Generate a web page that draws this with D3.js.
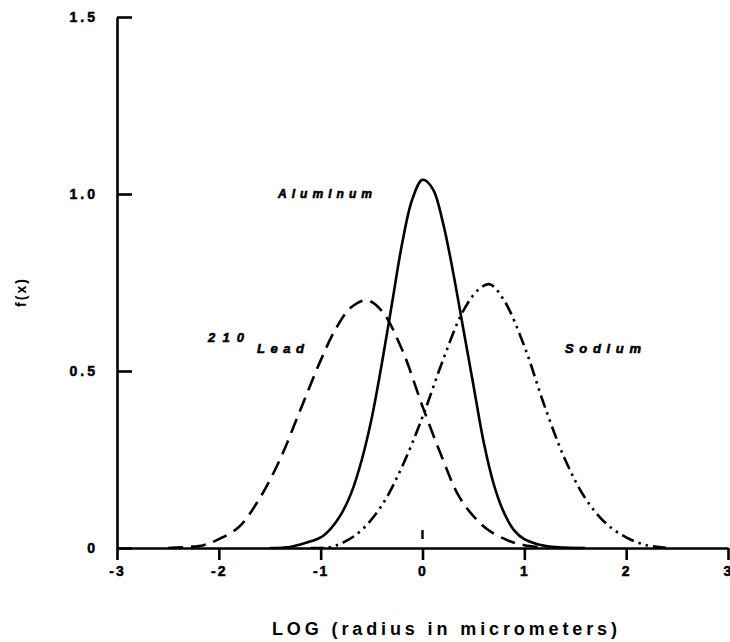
<!DOCTYPE html>
<html>
<head>
<meta charset="utf-8">
<script src="https://cdnjs.cloudflare.com/ajax/libs/d3/7.8.5/d3.min.js"></script>
<style>
  body { margin: 0; background: #fff; }
  svg { display: block; }
  .axis path, .axis line { stroke: #000; stroke-width: 2.6px; }
  .axis text { font-family: "Liberation Sans", Arial, sans-serif; font-weight: bold; font-size: 14px; fill: #000; stroke: #000; stroke-width: 0.5px; }
  .curve { fill: none; stroke: #000; stroke-width: 2.6px; }
  .lbl { font-family: "Liberation Sans", Arial, sans-serif; font-weight: bold; font-style: italic; fill: #000; stroke: #000; stroke-width: 0.6px; }
</style>
</head>
<body>
<script>
// tick values / labels
var xTicks = [-3, -2, -1, 0, 1, 2, 3];
var xTickLabels = ["-3", "-2", "-1", "0", "1", "2", "3"];
var yTicks = [0, 0.5, 1.0, 1.5];
var yTickLabels = ["0", "0.5", "1.0", "1.5"];

// curves: [log radius, f(x)]
var aluminum = [[-1.5,0],[-1.3,0.003],[-1.2,0.01],[-1.0,0.03],[-0.9,0.055],[-0.8,0.095],[-0.7,0.155],[-0.6,0.245],
  [-0.5,0.365],[-0.4,0.52],[-0.3,0.69],[-0.2,0.86],[-0.1,0.985],[0.0,1.04],[0.1,1.015],[0.2,0.92],[0.3,0.78],
  [0.4,0.62],[0.5,0.46],[0.6,0.3],[0.7,0.18],[0.8,0.1],[0.9,0.05],[1.0,0.025],[1.2,0.006],[1.4,0.001],[1.6,0]];
var lead = [[-2.5,0],[-2.3,0.003],[-2.15,0.008],[-2.0,0.025],[-1.8,0.06],[-1.6,0.14],[-1.4,0.25],[-1.2,0.39],
  [-1.0,0.53],[-0.85,0.62],[-0.7,0.68],[-0.55,0.70],[-0.4,0.67],[-0.2,0.56],[0.0,0.40],[0.2,0.25],[0.35,0.15],
  [0.5,0.09],[0.65,0.05],[0.85,0.02],[1.0,0.008],[1.2,0.001]];
var sodium = [[-1.1,0],[-0.9,0.003],[-0.75,0.02],[-0.6,0.05],[-0.4,0.12],[-0.2,0.23],[0.0,0.37],[0.2,0.53],
  [0.4,0.67],[0.55,0.73],[0.66,0.745],[0.8,0.70],[1.0,0.57],[1.2,0.40],[1.4,0.25],[1.6,0.14],[1.8,0.07],
  [2.0,0.03],[2.2,0.008],[2.4,0]];

var width = 730, height = 642;

var svg = d3.select("body").append("svg")
    .attr("width", width)
    .attr("height", height);

var x = d3.scaleLinear().domain([-3, 3]).range([117, 728]);
var y = d3.scaleLinear().domain([0, 1.5]).range([548, 17]);

// x axis
svg.append("g")
    .attr("class", "axis")
    .attr("transform", "translate(0," + y(0) + ")")
    .call(d3.axisBottom(x).tickValues(xTicks).tickSize(12).tickSizeOuter(0).tickPadding(6)
      .tickFormat(function(d, i) { return xTickLabels[i]; }))
    .selectAll("text").style("letter-spacing", "2px");

// y axis, ticks point inward
svg.append("g")
    .attr("class", "axis")
    .attr("transform", "translate(" + x(-3) + ",0)")
    .call(d3.axisLeft(y).tickValues(yTicks).tickSize(-15).tickSizeOuter(0).tickPadding(19)
      .tickFormat(function(d, i) { return yTickLabels[i]; }))
    .selectAll("text").style("letter-spacing", "3px");

// little mark at zero
svg.append("line")
    .attr("x1", x(0)).attr("x2", x(0))
    .attr("y1", y(0) - 18).attr("y2", y(0) - 9)
    .attr("stroke", "#000").attr("stroke-width", 2.4);

var line = d3.line()
    .x(function(d) { return x(d[0]); })
    .y(function(d) { return y(d[1]); })
    .curve(d3.curveCatmullRom.alpha(0.5));

svg.append("path").attr("class", "curve").attr("d", line(aluminum));
svg.append("path").attr("class", "curve").attr("d", line(lead))
    .attr("stroke-dasharray", "15,8");
svg.append("path").attr("class", "curve").attr("d", line(sodium))
    .attr("stroke-dasharray", "13,5,2.5,5,2.5,5");

// curve labels
svg.append("text").attr("class", "lbl").attr("x", 278).attr("y", 198)
    .attr("font-size", 12).attr("textLength", 94).attr("lengthAdjust", "spacing").text("Aluminum");
svg.append("text").attr("class", "lbl").attr("x", 208).attr("y", 342)
    .attr("font-size", 13).attr("textLength", 36).attr("lengthAdjust", "spacing").text("210");
svg.append("text").attr("class", "lbl").attr("x", 257).attr("y", 353)
    .attr("font-size", 13).attr("textLength", 47).attr("lengthAdjust", "spacing").text("Lead");
svg.append("text").attr("class", "lbl").attr("x", 565).attr("y", 353)
    .attr("font-size", 13).attr("textLength", 76).attr("lengthAdjust", "spacing").text("Sodium");

// axis titles
svg.append("text")
    .attr("x", 272).attr("y", 635)
    .attr("textLength", 345).attr("lengthAdjust", "spacing")
    .style("font-family", "Liberation Sans, Arial, sans-serif")
    .style("font-weight", "bold")
    .style("font-size", "18px")
    .text("LOG (radius in micrometers)");

svg.append("text")
    .attr("transform", "translate(26,292) rotate(-90)")
    .attr("text-anchor", "middle")
    .style("font-family", "Liberation Sans, Arial, sans-serif")
    .style("font-weight", "bold")
    .style("font-size", "14px")
    .style("letter-spacing", "2px")
    .text("f(x)");
</script>
</body>
</html>
